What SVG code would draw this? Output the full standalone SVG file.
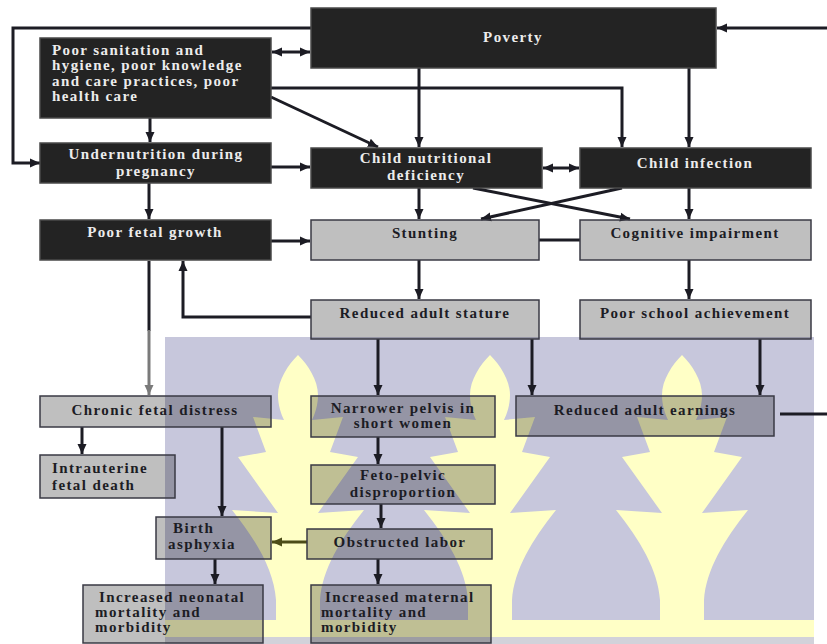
<svg xmlns="http://www.w3.org/2000/svg" width="827" height="644" viewBox="0 0 827 644">
<style>
.dk{fill:#232323;stroke:#4a4a4a;stroke-width:1.5}
.gr{fill:#000;fill-opacity:0.25;stroke:#3a3a44;stroke-width:1.5}
text{font-family:"Liberation Serif","Times New Roman",serif;font-weight:bold;font-size:15px;letter-spacing:1.4px}
.tw{fill:#ececec}
.tb{fill:#1c1c24}
.c{text-anchor:middle}
.ln{fill:none;stroke:#1c1c24;stroke-width:3}
.lg{fill:none;stroke:#7a7a7a;stroke-width:3}
.lo{fill:none;stroke:#4c4c18;stroke-width:3}
</style>
<defs>
<marker id="a" viewBox="0 0 10 10" refX="10" refY="5" markerUnits="userSpaceOnUse" markerWidth="10" markerHeight="10" orient="auto-start-reverse"><path d="M0,0.5 L10,5 L0,9.5 Z" fill="#1c1c24"/></marker>
<marker id="ag" viewBox="0 0 10 10" refX="10" refY="5" markerUnits="userSpaceOnUse" markerWidth="10" markerHeight="10" orient="auto"><path d="M0,0.5 L10,5 L0,9.5 Z" fill="#7a7a7a"/></marker>
<marker id="ao" viewBox="0 0 10 10" refX="10" refY="5" markerUnits="userSpaceOnUse" markerWidth="10" markerHeight="10" orient="auto"><path d="M0,0.5 L10,5 L0,9.5 Z" fill="#4c4c18"/></marker>
<path id="tree" d="M0,355 C10,365 20,380 20,395 C20,405 17,414 14,420 L45,417 L32,452 L60,457 L20,513 L66,510 C42,540 24,570 22,600 L22,622 L-22,622 L-22,600 C-24,570 -42,540 -66,510 L-20,513 L-60,457 L-32,452 L-45,417 L-14,420 C-17,414 -20,405 -20,395 C-20,380 -10,365 0,355 Z"/>
</defs>
<rect width="827" height="644" fill="#fff"/>
<g id="watermark">
<rect x="165" y="337" width="649" height="300" fill="#c7c7dc"/>
<g fill="#ffffc6">
<use href="#tree" transform="translate(298,0)"/>
<use href="#tree" transform="translate(490,0)"/>
<use href="#tree" transform="translate(682,0)"/>
<rect x="165" y="620" width="649" height="17"/>
</g>
<rect x="165" y="637" width="649" height="7" fill="#d2d2da"/>
</g>
<g id="connectors">
<path class="ln" d="M311,28 H13 V163 H40" marker-end="url(#a)"/>
<path class="ln" d="M272,52 H310" marker-start="url(#a)" marker-end="url(#a)"/>
<path class="ln" d="M271,88 H622 V147" marker-end="url(#a)"/>
<path class="ln" d="M271,97 L378,147" marker-end="url(#a)"/>
<path class="ln" d="M150,118 V142" marker-end="url(#a)"/>
<path class="ln" d="M419,68 V147" marker-end="url(#a)"/>
<path class="ln" d="M689,68 V147" marker-end="url(#a)"/>
<path class="ln" d="M827,28 H717" marker-end="url(#a)"/>
<path class="ln" d="M271,167 H310" marker-end="url(#a)"/>
<path class="ln" d="M543,168 H579" marker-start="url(#a)" marker-end="url(#a)"/>
<path class="ln" d="M149,183 V219" marker-end="url(#a)"/>
<path class="ln" d="M419,188 V219" marker-end="url(#a)"/>
<path class="ln" d="M689,188 V219" marker-end="url(#a)"/>
<path class="ln" d="M473,188 L630,219" marker-end="url(#a)"/>
<path class="ln" d="M622,188 L481,219" marker-end="url(#a)"/>
<path class="ln" d="M271,241 H310" marker-end="url(#a)"/>
<path class="ln" d="M539,240 H580"/>
<path class="ln" d="M419,260 V299" marker-end="url(#a)"/>
<path class="ln" d="M689,260 V299" marker-end="url(#a)"/>
<path class="ln" d="M311,317 H183 V261" marker-end="url(#a)"/>
<path class="ln" d="M149,261 V331"/>
<path class="lg" d="M149,330 V395" marker-end="url(#ag)"/>
<path class="ln" d="M378,339 V395" marker-end="url(#a)"/>
<path class="ln" d="M532,339 V395" marker-end="url(#a)"/>
<path class="ln" d="M760,339 V395" marker-end="url(#a)"/>
<path class="ln" d="M780,414 H827"/>
<path class="ln" d="M82,427 V454" marker-end="url(#a)"/>
<path class="ln" d="M222,427 V516" marker-end="url(#a)"/>
<path class="ln" d="M378,437 V464" marker-end="url(#a)"/>
<path class="ln" d="M381,504 V528" marker-end="url(#a)"/>
<path class="lo" d="M307,542 H272" marker-end="url(#ao)"/>
<path class="ln" d="M215,559 V584" marker-end="url(#a)"/>
<path class="ln" d="M378,559 V584" marker-end="url(#a)"/>
</g>
<g id="poverty"><rect class="dk" x="311" y="8" width="405" height="60"/><text class="tw c" x="513" y="42">Poverty</text></g>
<g id="poor-sanitation"><rect class="dk" x="40" y="38" width="231" height="80"/>
<text class="tw" x="52" y="55">Poor sanitation and</text>
<text class="tw" x="52" y="70">hygiene, poor knowledge</text>
<text class="tw" x="52" y="86">and care practices, poor</text>
<text class="tw" x="52" y="101">health care</text></g>
<g id="undernutrition"><rect class="dk" x="40" y="143" width="231" height="40"/>
<text class="tw c" x="156" y="159">Undernutrition during</text>
<text class="tw c" x="156" y="176">pregnancy</text></g>
<g id="child-nutritional"><rect class="dk" x="311" y="148" width="231" height="40"/>
<text class="tw c" x="426" y="163">Child nutritional</text>
<text class="tw c" x="426" y="180">deficiency</text></g>
<g id="child-infection"><rect class="dk" x="580" y="148" width="231" height="40"/>
<text class="tw c" x="695" y="168">Child infection</text></g>
<g id="poor-fetal-growth"><rect class="dk" x="40" y="220" width="231" height="40"/>
<text class="tw c" x="155" y="237">Poor fetal growth</text></g>
<g id="stunting"><rect class="gr" x="311" y="220" width="228" height="40"/>
<text class="tb c" x="425" y="238">Stunting</text></g>
<g id="cognitive"><rect class="gr" x="580" y="220" width="231" height="40"/>
<text class="tb c" x="695" y="238">Cognitive impairment</text></g>
<g id="reduced-stature"><rect class="gr" x="311" y="300" width="228" height="39"/>
<text class="tb c" x="425" y="318">Reduced adult stature</text></g>
<g id="poor-school"><rect class="gr" x="580" y="300" width="231" height="39"/>
<text class="tb c" x="695" y="318">Poor school achievement</text></g>
<g id="chronic-distress"><rect class="gr" x="40" y="396" width="231" height="31"/>
<text class="tb c" x="155" y="415">Chronic fetal distress</text></g>
<g id="intrauterine"><rect class="gr" x="40" y="455" width="135" height="43"/>
<text class="tb" x="52" y="473">Intrauterine</text>
<text class="tb" x="52" y="490">fetal death</text></g>
<g id="birth-asphyxia"><rect class="gr" x="156" y="517" width="115" height="42"/>
<text class="tb" x="173" y="533">Birth</text>
<text class="tb" x="168" y="549">asphyxia</text></g>
<g id="neonatal"><rect class="gr" x="83" y="585" width="180" height="58"/>
<text class="tb" x="99" y="602">Increased neonatal</text>
<text class="tb" x="95" y="617">mortality and</text>
<text class="tb" x="95" y="632">morbidity</text></g>
<g id="narrower-pelvis"><rect class="gr" x="311" y="396" width="184" height="41"/>
<text class="tb c" x="403" y="413">Narrower pelvis in</text>
<text class="tb c" x="403" y="428">short women</text></g>
<g id="feto-pelvic"><rect class="gr" x="311" y="465" width="184" height="39"/>
<text class="tb c" x="403" y="480">Feto-pelvic</text>
<text class="tb c" x="403" y="497">disproportion</text></g>
<g id="obstructed"><rect class="gr" x="307" y="529" width="185" height="30"/>
<text class="tb c" x="400" y="547">Obstructed labor</text></g>
<g id="maternal"><rect class="gr" x="311" y="585" width="180" height="58"/>
<text class="tb" x="325" y="602">Increased maternal</text>
<text class="tb" x="321" y="617">mortality and</text>
<text class="tb" x="321" y="632">morbidity</text></g>
<g id="earnings"><rect class="gr" x="516" y="396" width="258" height="40"/>
<text class="tb c" x="645" y="415">Reduced adult earnings</text></g>
</svg>
